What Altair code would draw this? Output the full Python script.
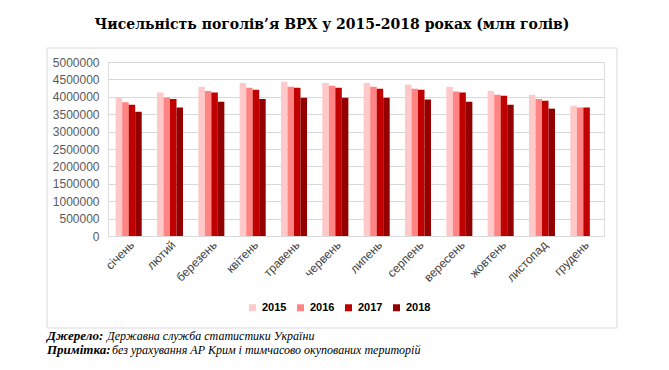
import altair as alt
import pandas as pd

months = ["січень", "лютий", "березень", "квітень", "травень", "червень",
          "липень", "серпень", "вересень", "жовтень", "листопад", "грудень"]
years = ["2015", "2016", "2017", "2018"]
v2015 = [3980000, 4120000, 4290000, 4400000, 4430000, 4400000, 4400000, 4350000, 4290000, 4170000, 4060000, 3740000]
v2016 = [3840000, 3980000, 4170000, 4260000, 4290000, 4320000, 4290000, 4230000, 4150000, 4060000, 3940000, 3690000]
v2017 = [3770000, 3940000, 4120000, 4200000, 4260000, 4260000, 4230000, 4200000, 4120000, 4030000, 3890000, 3690000]
v2018 = [3570000, 3690000, 3860000, 3940000, 3970000, 3970000, 3970000, 3920000, 3860000, 3770000, 3660000, None]
colors = ["#FFC9C9", "#FF8585", "#C00000", "#920000"]
y_ticks = [0, 500000, 1000000, 1500000, 2000000, 2500000, 3000000, 3500000, 4000000, 4500000, 5000000]

title_text = "Чисельність поголів’я ВРХ у 2015-2018 роках (млн голів)"
src_label = "Джерело:"
src_text = "Державна служба статистики України"
note_label = "Примітка:"
note_text = "без урахування АР Крим і тимчасово окупованих територій"

rows = []
for yr, vals in zip(years, [v2015, v2016, v2017, v2018]):
    for m, v in zip(months, vals):
        rows.append({"month": m, "year": yr, "value": v})
df = pd.DataFrame(rows)
one = pd.DataFrame({"a": [0]})

frame = alt.Chart(one).mark_rect(fill="transparent", stroke="#D9D9D9", strokeWidth=1).encode(
    x=alt.value(-61), x2=alt.value(509), y=alt.value(-14), y2=alt.value(266)
)

bars = alt.Chart(df).mark_bar().encode(
    x=alt.X("month:N", sort=months,
            scale=alt.Scale(paddingInner=0.37, paddingOuter=0.185),
            axis=alt.Axis(title=None, labelAngle=-45, ticks=False, domain=True,
                          domainColor="#D9D9D9", labelColor="#404040",
                          labelFont="Liberation Sans", labelFontSize=12,
                          labelPadding=3)),
    xOffset=alt.XOffset("year:N", sort=years, scale=alt.Scale(paddingInner=0, paddingOuter=0)),
    y=alt.Y("value:Q", scale=alt.Scale(domain=[0, 5000000], nice=False),
            axis=alt.Axis(title=None, values=y_ticks, format="d", ticks=False,
                          domain=False, gridColor="#D9D9D9", labelColor="#595959",
                          labelFont="Liberation Sans", labelFontSize=12,
                          labelPadding=9)),
    color=alt.Color("year:N", sort=years,
                    scale=alt.Scale(domain=years, range=colors),
                    legend=alt.Legend(title=None, orient="none", direction="horizontal",
                                      legendX=139, legendY=240,
                                      symbolType="square", symbolSize=49,
                                      symbolStrokeWidth=0,
                                      labelFont="Liberation Sans", labelFontSize=11,
                                      labelFontWeight="bold", labelColor="#000000",
                                      labelOffset=4, columnPadding=8)),
)

def note(txt, x, y, bold, size):
    return alt.Chart(one).mark_text(
        text=txt, align="left", baseline="middle", font="Liberation Serif",
        fontSize=size, fontStyle="italic", fontWeight="bold" if bold else "normal",
        color="#000000"
    ).encode(x=alt.value(x), y=alt.value(y))

texts = (note(src_label, -61, 274, True, 13) + note(src_text, -1, 274, False, 12)
         + note(note_label, -61, 288, True, 13) + note(note_text, 4, 288, False, 12))

chart = alt.layer(frame, bars, texts).properties(
    width=496, height=174,
    title=alt.TitleParams(title_text, font="DejaVu Serif", fontSize=14, fontWeight="bold",
                          color="#000000", anchor="middle", dx=-24, offset=16),
    autosize=alt.AutoSizeParams(type="none"),
    padding={"left": 100, "top": 54, "right": 53, "bottom": 130},
).configure_view(stroke=None).configure(background="white")

chart.save("out.html", embed_options={"renderer": "svg", "actions": False})
